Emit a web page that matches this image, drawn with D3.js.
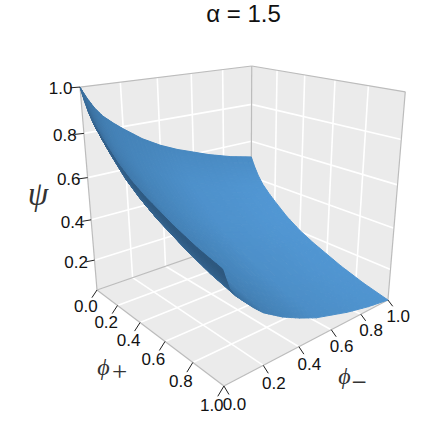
<!DOCTYPE html>
<html>
<head>
<meta charset="utf-8">
<script src="https://cdn.jsdelivr.net/npm/d3@7"></script>
<style>
body { margin: 0; background: #fff; }
text { font-family: "Liberation Sans", Arial, sans-serif; }
</style>
</head>
<body>
<svg id="chart"></svg>
<script>
var width = 447;
var height = 431;

var phiPlus = [0, .01, .03, .06, .1, .15, .2, .3, .4, .5, .7, .85, 1];
var phiMinus = [0, .01, .03, .06, .1, .15, .2, .3, .4, .5, .7, .85, 1];
// psi, one row per phiPlus value
var psi = [
    [1, .981, .948, .905, .862, .824, .79, .728, .68, .642, .58, .542, .513],
    [.981, .962, .928, .885, .842, .804, .77, .708, .66, .622, .561, .523, .495],
    [.948, .928, .893, .85, .808, .769, .735, .673, .626, .588, .528, .491, .463],
    [.905, .884, .847, .805, .763, .724, .689, .629, .582, .544, .485, .449, .422],
    [.862, .841, .801, .759, .718, .679, .643, .584, .537, .50, .442, .407, .381],
    [.824, .802, .761, .719, .679, .638, .603, .544, .498, .461, .404, .37, .344],
    [.79, .767, .725, .683, .643, .602, .567, .508, .463, .426, .37, .336, .312],
    [.728, .704, .658, .617, .578, .537, .50, .443, .398, .361, .307, .275, .252],
    [.68, .655, .608, .567, .528, .486, .45, .393, .349, .312, .259, .229, .206],
    [.642, .616, .567, .526, .489, .446, .409, .353, .31, .273, .221, .191, .17],
    [.58, .553, .501, .461, .424, .381, .343, .288, .246, .209, .159, .131, .11],
    [.542, .515, .461, .421, .384, .341, .303, .249, .206, .17, .121, .094, .074],
    [.513, .485, .43, .39, .354, .31, .272, .218, .176, .14, .092, .065, .046]
];
var phiTicks = [0, .2, .4, .6, .8, 1];
var psiTicks = [.2, .4, .6, .8, 1];
var gridLines = [.2, .4, .6, .8];
var psiMin = .046;

var xScale = d3.scaleLinear().domain([0, 1]).range([0, 1]);
var yScale = d3.scaleLinear().domain([0, 1]).range([0, 1]);
var zScale = d3.scaleLinear().domain([psiMin, 1]).range([0, 1]);

// perspective camera, fitted to the corners of the box
function project(p, m, z) {
    var x = xScale(p), y = yScale(m), u = zScale(z);
    var w = 1 - .2301 * x + .2024 * y - .104 * u;
    return [
        (75.4 * x + 204.8 * y - 25.3 * u + 97) / w,
        (7.2 * x - 5.5 * y - 212 * u + 290) / w,
        w
    ];
}

var svg = d3.select('#chart').attr('width', width).attr('height', height);
var line = d3.line();

function poly(pts, fill) {
    return svg.append('path')
        .attr('d', line(pts.map(d => project(d[0], d[1], d[2]))) + 'Z')
        .attr('fill', fill);
}
function seg(a, b, color, w) {
    var p = project(a[0], a[1], a[2]), q = project(b[0], b[1], b[2]);
    return svg.append('line')
        .attr('x1', p[0]).attr('y1', p[1])
        .attr('x2', q[0]).attr('y2', q[1])
        .attr('stroke', color)
        .attr('stroke-width', w);
}

// panels
poly([[0, 0, psiMin], [0, 1, psiMin], [0, 1, 1], [0, 0, 1]], '#ebebeb');
poly([[0, 1, psiMin], [1, 1, psiMin], [1, 1, 1], [0, 1, 1]], '#ebebeb');
poly([[0, 0, psiMin], [1, 0, psiMin], [1, 1, psiMin], [0, 1, psiMin]], '#ebebeb');

gridLines.forEach(function(g) {
    seg([0, g, psiMin], [0, g, 1], '#fff', 1.6);
    seg([g, 1, psiMin], [g, 1, 1], '#fff', 1.6);
    seg([0, 0, g], [0, 1, g], '#fff', 1.6);
    seg([0, 1, g], [1, 1, g], '#fff', 1.6);
    seg([g, 0, psiMin], [g, 1, psiMin], '#fff', 1.6);
    seg([0, g, psiMin], [1, g, psiMin], '#fff', 1.6);
});

var border = '#bcbcbc';
[
    [[0, 0, psiMin], [0, 0, 1]], [[0, 1, psiMin], [0, 1, 1]], [[1, 1, psiMin], [1, 1, 1]],
    [[0, 0, 1], [0, 1, 1]], [[0, 1, 1], [1, 1, 1]],
    [[0, 0, psiMin], [0, 1, psiMin]], [[0, 1, psiMin], [1, 1, psiMin]],
    [[0, 0, psiMin], [1, 0, psiMin]], [[1, 0, psiMin], [1, 1, psiMin]]
].forEach(d => seg(d[0], d[1], border, 1.2));

// surface: the mesh is the data grid, colour is blended across each cell from its corners
var shade = d3.scaleLinear()
    .domain([-.35, .1, .62, .85])
    .range(['#25496a', '#35648f', '#4685bb', '#5298d5'])
    .clamp(true);

var light = [.42, -.42, .8];

function slope(ts, i, get) {
    var a = Math.max(i - 1, 0), b = Math.min(i + 1, ts.length - 1);
    return (get(b) - get(a)) / (ts[b] - ts[a]);
}
var lum = psi.map(function(row, i) {
    return row.map(function(v, j) {
        var fx = slope(phiPlus, i, k => psi[k][j]);
        var fy = slope(phiMinus, j, k => psi[i][k]);
        var len = Math.sqrt(fx * fx + fy * fy + 1);
        return (-fx * light[0] - fy * light[1] + light[2]) / len;
    });
});

var steps = 4;
var cells = [];
for (let i = 0; i < phiPlus.length - 1; i++) {
    for (let j = 0; j < phiMinus.length - 1; j++) {
        for (let a = 0; a < steps; a++) {
            for (let b = 0; b < steps; b++) {
                var corners = [[a, b], [a + 1, b], [a + 1, b + 1], [a, b + 1]].map(function(c) {
                    var s = c[0] / steps, t = c[1] / steps;
                    return [
                        phiPlus[i] + s * (phiPlus[i + 1] - phiPlus[i]),
                        phiMinus[j] + t * (phiMinus[j + 1] - phiMinus[j]),
                        (1 - s) * (1 - t) * psi[i][j] + s * (1 - t) * psi[i + 1][j] +
                            s * t * psi[i + 1][j + 1] + (1 - s) * t * psi[i][j + 1]
                    ];
                });
                var s0 = (a + .5) / steps, t0 = (b + .5) / steps;
                cells.push({
                    corners: corners,
                    lum: (1 - s0) * (1 - t0) * lum[i][j] + s0 * (1 - t0) * lum[i + 1][j] +
                        s0 * t0 * lum[i + 1][j + 1] + (1 - s0) * t0 * lum[i][j + 1],
                    depth: d3.mean(corners, c => project(c[0], c[1], c[2])[2])
                });
            }
        }
    }
}
cells.sort((a, b) => b.depth - a.depth);
cells.forEach(function(c) {
    poly(c.corners, shade(c.lum))
        .attr('stroke', shade(c.lum))
        .attr('stroke-width', 1)
        .attr('stroke-linejoin', 'round');
});

// ticks and labels
function tickLabel(at, dx, dy, txt, anchor) {
    svg.append('text')
        .attr('x', at[0] + dx)
        .attr('y', at[1] + dy)
        .attr('text-anchor', anchor)
        .attr('dominant-baseline', 'central')
        .attr('font-size', 17)
        .attr('fill', '#111')
        .text(txt);
}
var fmt = d3.format('.1f');

phiTicks.forEach(function(t) {
    seg([t, 0, psiMin], [t, -.03, psiMin - .03], '#222', 1);
    tickLabel(project(t, -.03, psiMin - .03), -6, 9, fmt(t), 'middle');
    seg([1, t, psiMin], [1.03, t, psiMin - .02], '#222', 1);
    tickLabel(project(1.03, t, psiMin - .02), 5.5, 10, fmt(t), 'middle');
});
psiTicks.forEach(function(t) {
    seg([0, 0, t], [-.01, -.04, t], '#222', 1);
    tickLabel(project(-.01, -.04, t), 2, 1, fmt(t), 'end');
});

// titles
svg.append('text')
    .attr('x', 243.5).attr('y', 22)
    .attr('text-anchor', 'middle')
    .attr('font-size', 24)
    .attr('fill', '#111')
    .text('α = 1.5');

function mathLabel(x, y, size, txt, italic) {
    svg.append('text')
        .attr('x', x).attr('y', y)
        .attr('text-anchor', 'middle')
        .attr('fill', '#333')
        .attr('font-style', italic ? 'italic' : 'normal')
        .style('font-family', '"Liberation Serif", "DejaVu Serif", serif')
        .attr('font-size', size)
        .text(txt);
}
mathLabel(38, 205, 33, 'ψ', true);
mathLabel(103.5, 375, 24, 'ϕ', true);
mathLabel(119.5, 381, 27, '+', false);
mathLabel(344.5, 384, 24, 'ϕ', true);
mathLabel(359, 391, 27, '−', false);
</script>
</body>
</html>
